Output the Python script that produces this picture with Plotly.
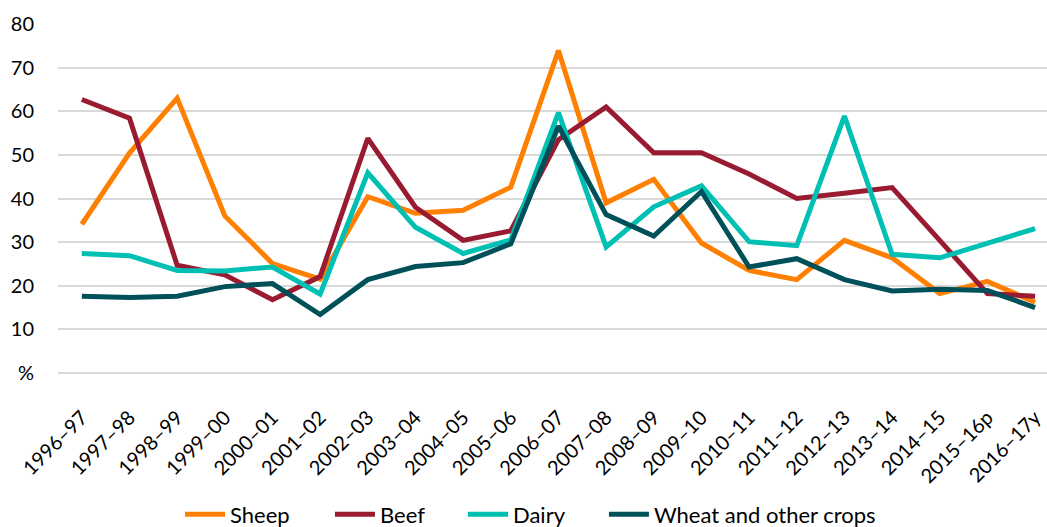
import plotly.graph_objects as go

years = ["1996–97", "1997–98", "1998–99", "1999–00", "2000–01", "2001–02", "2002–03",
         "2003–04", "2004–05", "2005–06", "2006–07", "2007–08", "2008–09", "2009–10",
         "2010–11", "2011–12", "2012–13", "2013–14", "2014–15", "2015–16p", "2016–17y"]

sheep = [34.1, 50.4, 63.0, 36.0, 25.1, 21.5, 40.4, 36.6, 37.3, 42.6, 73.9, 39.0, 44.4,
         29.8, 23.5, 21.4, 30.4, 26.4, 18.2, 21.0, 16.2]
beef = [62.7, 58.4, 24.7, 22.5, 16.8, 22.1, 53.8, 38.0, 30.4, 32.6, 53.5, 61.0, 50.5,
        50.5, 45.6, 40.0, 41.2, 42.5, 30.4, 18.2, 17.6]
dairy = [27.4, 26.9, 23.5, 23.4, 24.3, 18.1, 45.9, 33.4, 27.4, 30.5, 59.7, 28.9, 38.1,
         42.9, 30.1, 29.2, 58.9, 27.2, 26.4, 29.8, 33.1]
wheat = [17.6, 17.3, 17.6, 19.8, 20.5, 13.4, 21.4, 24.4, 25.3, 29.6, 56.6, 36.3, 31.4,
         41.6, 24.3, 26.2, 21.4, 18.8, 19.2, 18.9, 15.0]

y_tickvals = [0, 10, 20, 30, 40, 50, 60, 70, 80]
y_ticktext = ["%", "10", "20", "30", "40", "50", "60", "70", "80"]

series = [
    ("Sheep", sheep, "#FF7F00"),
    ("Beef", beef, "#981B31"),
    ("Dairy", dairy, "#00BFB3"),
    ("Wheat and other crops", wheat, "#00505A"),
]
legend_x = [0.1234, 0.275, 0.4095, 0.552]

font_family = "Lato, 'Open Sans', sans-serif"

fig = go.Figure()
legend_ids = ["legend", "legend2", "legend3", "legend4"]
for (name, vals, color), lid in zip(series, legend_ids):
    fig.add_trace(go.Scatter(
        x=years, y=vals, name=name, mode="lines", legend=lid,
        line=dict(color=color, width=5, shape="linear"),
    ))

legend_common = dict(orientation="h", xanchor="left", y=-0.345, yanchor="top",
                     font=dict(size=22, family=font_family), bgcolor="rgba(0,0,0,0)",
                     itemwidth=40)
legends = {lid: dict(x=lx, **legend_common) for lid, lx in zip(legend_ids, legend_x)}

fig.update_layout(
    width=1047, height=527,
    margin=dict(l=58, r=0, t=24, b=154, autoexpand=False),
    paper_bgcolor="white", plot_bgcolor="white",
    font=dict(family=font_family, color="#000000", size=18),
    showlegend=True,
    xaxis=dict(
        type="category", range=[-0.5, 20.25], automargin=False,
        tickangle=-45, tickfont=dict(size=20, family=font_family),
        showgrid=False, showline=False, ticks="", ticklabelstandoff=28,
    ),
    yaxis=dict(
        range=[0, 80], tickvals=y_tickvals, ticktext=y_ticktext, automargin=False,
        showgrid=True, gridcolor="#D9D9D9", gridwidth=1.5,
        zeroline=True, zerolinecolor="#D9D9D9", zerolinewidth=1.5,
        showline=False, ticks="", ticklabelstandoff=23,
        tickfont=dict(size=20, family=font_family),
    ),
    **legends,
)

fig.write_html("out.html", config={"displayModeBar": False},
               post_script="document.body.style.margin='0';document.body.style.padding='0';")
